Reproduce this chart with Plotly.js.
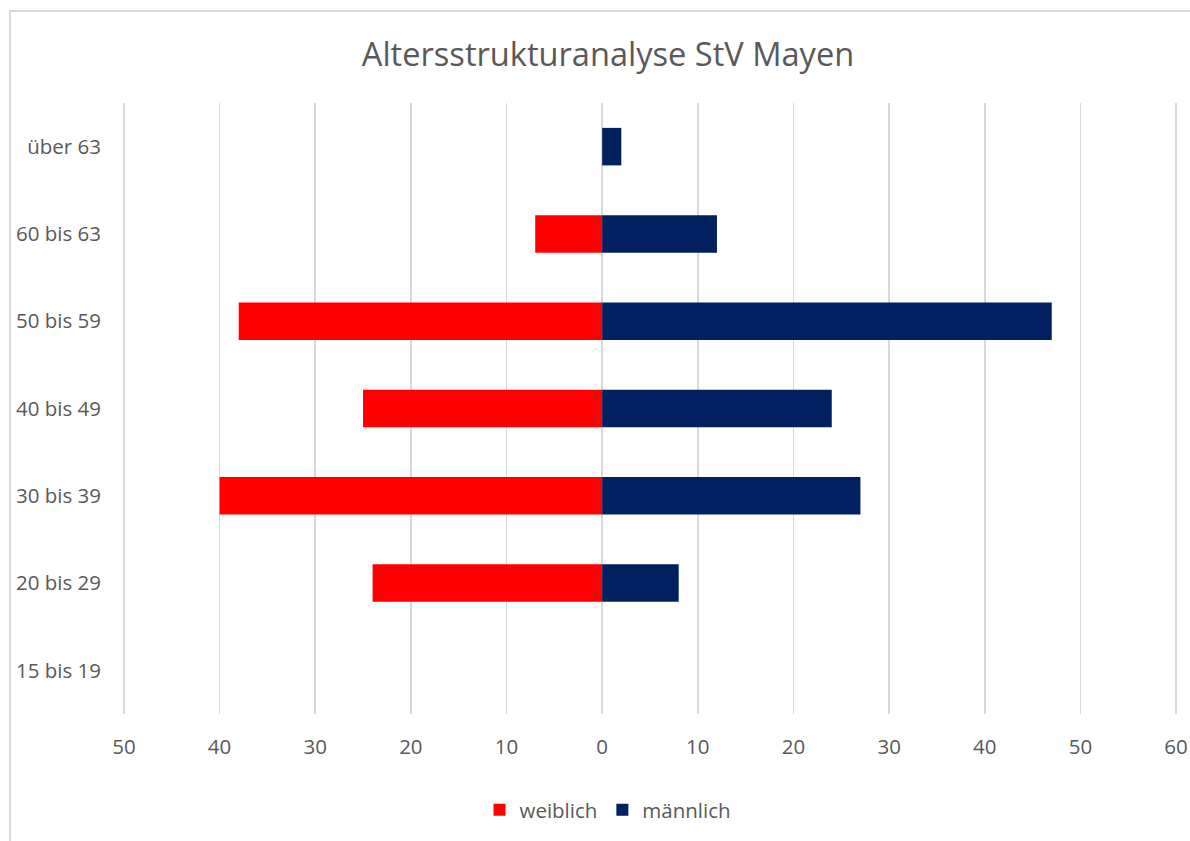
<!DOCTYPE html>
<html>
<head>
<meta charset="utf-8">
<script src="https://cdn.plot.ly/plotly-3.0.1.min.js"></script>
<style>
html,body{margin:0;padding:0;width:1190px;height:841px;overflow:hidden;background:#fff;}
#frame{position:absolute;left:9px;top:10px;width:1400px;height:1000px;border:2px solid #d9d9d9;box-sizing:border-box;}
#chart{position:absolute;left:0;top:0;width:1190px;height:841px;}
</style>
</head>
<body>
<div id="frame"></div>
<div id="chart"></div>
<script>
const categories = ['15 bis 19','20 bis 29','30 bis 39','40 bis 49','50 bis 59','60 bis 63','über 63'];
const weiblich = [0, 24, 40, 25, 38, 7, 0];
const maennlich = [0, 8, 27, 24, 47, 12, 2];
const tickValues = [-50,-40,-30,-20,-10,0,10,20,30,40,50,60];
const tickLabels = ['50','40','30','20','10','0','10','20','30','40','50','60'];

const fontFam = '"Open Sans", "Noto Sans", sans-serif';
const gray = '#595959';

const traces = [
  {type:'bar', orientation:'h', name:'weiblich', y:categories, x:weiblich.map(v=>-v),
   marker:{color:'#FF0000'}, width:0.43, hoverinfo:'skip'},
  {type:'bar', orientation:'h', name:'männlich', y:categories, x:maennlich,
   marker:{color:'#002060'}, width:0.43, hoverinfo:'skip'}
];

const layout = {
  width:1190, height:841,
  paper_bgcolor:'rgba(0,0,0,0)', plot_bgcolor:'rgba(0,0,0,0)',
  margin:{l:122, r:12, t:103, b:126},
  barmode:'overlay',
  font:{family:fontFam, color:gray, size:20.5},
  title:{text:'Altersstrukturanalyse StV Mayen', x:(608-122)/1056, xref:'paper', xanchor:'center', y:1-55/841, yanchor:'middle',
         font:{family:fontFam, size:32.6, color:gray}},
  xaxis:{range:[-50.2,60.2], tickvals:tickValues, ticktext:tickLabels, showgrid:true, gridcolor:'#d9d9d9', gridwidth:1.5,
         zeroline:false, showline:false, ticks:'', ticklabelstandoff:18, tickfont:{size:20.5, color:gray}, fixedrange:true},
  yaxis:{type:'category', categoryorder:'array', categoryarray:categories, showgrid:false, zeroline:false, showline:false,
         ticks:'', ticklabelstandoff:20, tickfont:{size:20.5, color:gray}, range:[-0.5,6.5], fixedrange:true},
  showlegend:true,
  legend:{orientation:'h', x:(608-122)/1056, xanchor:'center', y:(715-810)/612, yanchor:'middle', font:{size:20.5, color:gray},
          traceorder:'normal', itemwidth:30}
};

Plotly.newPlot('chart', traces, layout, {displayModeBar:false, staticPlot:true});
</script>
</body>
</html>
